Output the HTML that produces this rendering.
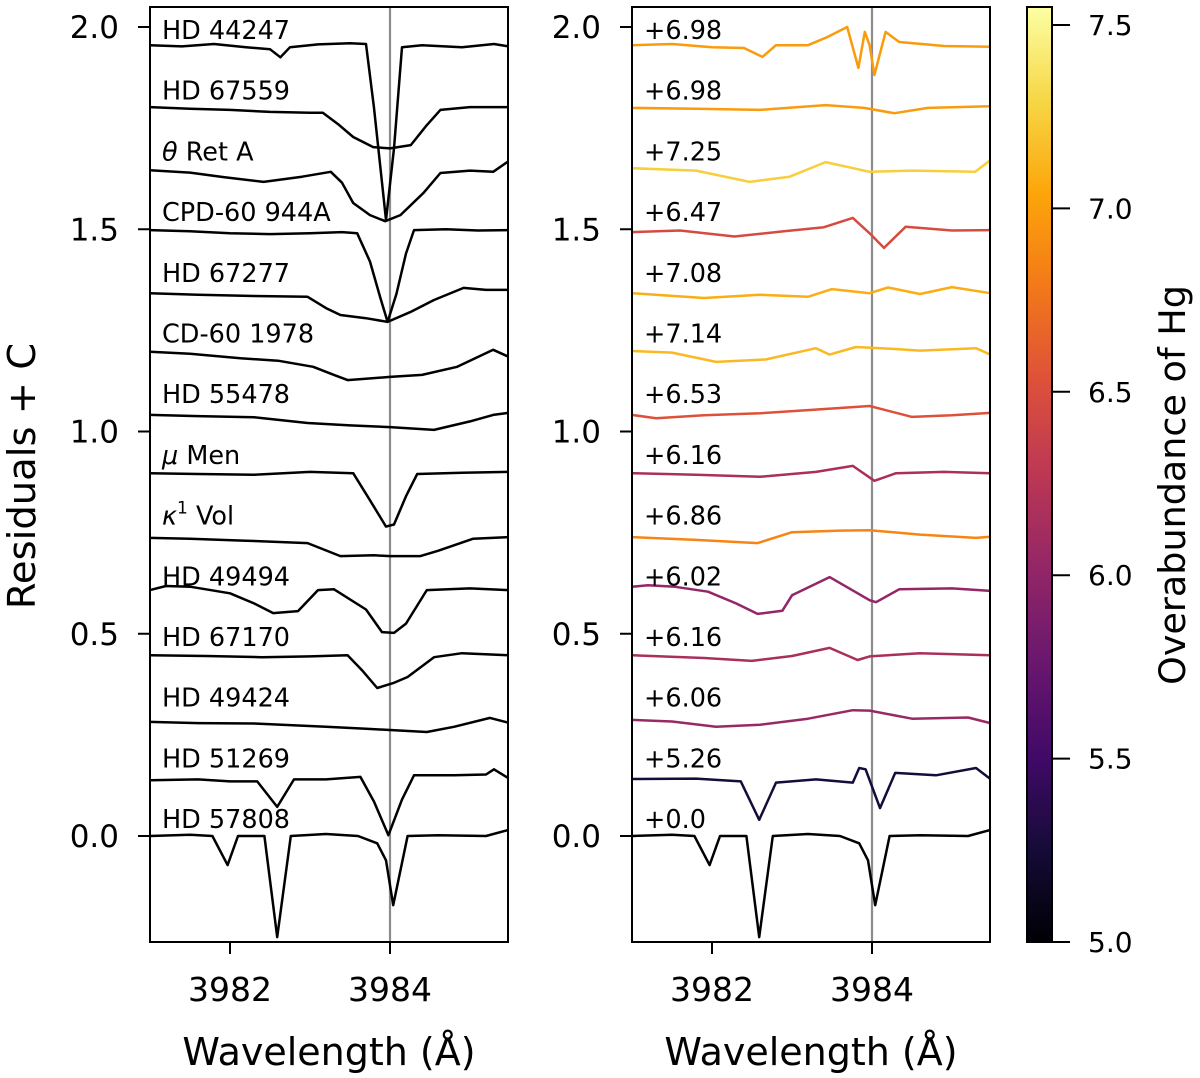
<!DOCTYPE html>
<html><head><meta charset="utf-8"><style>
html,body{margin:0;padding:0;background:#fff}
svg{display:block;font-family:"DejaVu Sans","Liberation Sans",sans-serif}
</style></head><body>
<svg id="chart" width="1200" height="1078" viewBox="0 0 1200 1078" xmlns="http://www.w3.org/2000/svg">
<defs>
<linearGradient id="cbgrad" x1="0" y1="1" x2="0" y2="0">
<stop offset="0" stop-color="#000004"/><stop offset="0.1" stop-color="#160b39"/><stop offset="0.2" stop-color="#420a68"/><stop offset="0.3" stop-color="#6a176e"/><stop offset="0.4" stop-color="#932667"/><stop offset="0.5" stop-color="#bc3754"/><stop offset="0.6" stop-color="#dd513a"/><stop offset="0.7" stop-color="#f37819"/><stop offset="0.8" stop-color="#fca50a"/><stop offset="0.9" stop-color="#f6d746"/><stop offset="1" stop-color="#fcffa4"/>
</linearGradient>
</defs>
<g id="left"></g>
<g id="right"></g>
<g id="cbar"></g>
</svg>
<script>
// ---- data ----
const starNames = ["HD 44247","HD 67559","θ Ret A","CPD-60 944A","HD 67277","CD-60 1978","HD 55478","μ Men","κ1 Vol","HD 49494","HD 67170","HD 49424","HD 51269","HD 57808"];
const abundances = [6.98,6.98,7.25,6.47,7.08,7.14,6.53,6.16,6.86,6.02,6.16,6.06,5.26,0.0];
const abundanceLabels = ["+6.98","+6.98","+7.25","+6.47","+7.08","+7.14","+6.53","+6.16","+6.86","+6.02","+6.16","+6.06","+5.26","+0.0"];
const yTicks = [0.0,0.5,1.0,1.5,2.0];
const yTickLabels = ["0.0","0.5","1.0","1.5","2.0"];
const xTicks = [3982,3984];
const cbTicks = [5.0,5.5,6.0,6.5,7.0,7.5];
const cbTickLabels = ["5.0","5.5","6.0","6.5","7.0","7.5"];
const markerLine = 3984;

const L1_wl=[3981.0,3981.4,3981.8,3982.2,3982.5,3982.63,3982.75,3983.1,3983.5,3983.7,3983.8,3983.95,3984.05,3984.15,3984.4,3984.9,3985.3,3985.48];
const L1_fx=[1.955,1.952,1.958,1.950,1.945,1.925,1.950,1.957,1.960,1.958,1.80,1.523,1.70,1.950,1.955,1.950,1.958,1.952];
const L2_wl=[3981.0,3981.5,3982.0,3982.5,3983.0,3983.16,3983.35,3983.54,3983.79,3984.0,3984.26,3984.45,3984.63,3985.0,3985.48];
const L2_fx=[1.802,1.798,1.795,1.790,1.788,1.788,1.760,1.728,1.703,1.700,1.708,1.755,1.795,1.802,1.802];
const L3_wl=[3981.0,3981.5,3981.92,3982.42,3982.9,3983.26,3983.4,3983.54,3983.75,3983.94,3984.13,3984.42,3984.63,3985.0,3985.29,3985.48];
const L3_fx=[1.646,1.640,1.629,1.617,1.630,1.642,1.615,1.565,1.535,1.520,1.535,1.590,1.639,1.645,1.642,1.668];
const L4_wl=[3981.0,3981.5,3982.0,3982.5,3983.0,3983.4,3983.59,3983.75,3983.88,3983.97,3984.08,3984.2,3984.3,3984.7,3985.1,3985.48];
const L4_fx=[1.498,1.495,1.490,1.488,1.490,1.493,1.490,1.420,1.330,1.271,1.340,1.440,1.498,1.500,1.497,1.498];
const L5_wl=[3981.0,3981.6,3982.3,3982.97,3983.2,3983.38,3983.7,3983.97,3984.25,3984.55,3984.92,3985.2,3985.48];
const L5_fx=[1.342,1.338,1.335,1.333,1.305,1.288,1.280,1.271,1.295,1.325,1.355,1.350,1.350];
const L6_wl=[3981.0,3981.5,3982.13,3982.6,3983.04,3983.3,3983.47,3984.0,3984.4,3984.84,3985.29,3985.48];
const L6_fx=[1.197,1.192,1.181,1.175,1.160,1.140,1.127,1.135,1.140,1.160,1.202,1.185];
const L7_wl=[3981.0,3981.6,3982.3,3982.97,3983.5,3984.0,3984.55,3985.0,3985.29,3985.48];
const L7_fx=[1.041,1.038,1.035,1.021,1.015,1.011,1.004,1.025,1.041,1.046];
const L8_wl=[3981.0,3981.6,3982.3,3983.0,3983.54,3983.75,3983.95,3984.05,3984.2,3984.34,3984.9,3985.48];
const L8_fx=[0.897,0.895,0.893,0.900,0.897,0.830,0.765,0.770,0.840,0.895,0.898,0.900];
const L9_wl=[3981.0,3981.5,3982.2,3982.97,3983.38,3983.8,3984.0,3984.38,3984.6,3985.04,3985.48];
const L9_fx=[0.737,0.735,0.730,0.724,0.692,0.694,0.692,0.692,0.705,0.735,0.739];
const L10_wl=[3981.0,3981.2,3981.51,3982.0,3982.3,3982.54,3982.85,3983.1,3983.3,3983.7,3983.9,3984.05,3984.2,3984.46,3985.0,3985.48];
const L10_fx=[0.608,0.618,0.616,0.600,0.575,0.551,0.556,0.608,0.610,0.560,0.504,0.502,0.525,0.608,0.612,0.608];
const L11_wl=[3981.0,3981.7,3982.4,3983.0,3983.47,3983.65,3983.84,3984.04,3984.22,3984.55,3984.9,3985.48];
const L11_fx=[0.447,0.445,0.442,0.444,0.447,0.410,0.366,0.378,0.393,0.442,0.452,0.447];
const L12_wl=[3981.0,3981.6,3982.3,3983.2,3983.7,3984.0,3984.46,3984.8,3985.25,3985.48];
const L12_fx=[0.282,0.279,0.278,0.270,0.265,0.262,0.257,0.270,0.292,0.280];
const L13_wl=[3981.0,3981.6,3982.0,3982.34,3982.59,3982.8,3983.2,3983.63,3983.8,3983.98,3984.15,3984.3,3984.8,3985.2,3985.3,3985.48];
const L13_fx=[0.138,0.140,0.135,0.135,0.072,0.140,0.140,0.146,0.085,0.002,0.090,0.150,0.150,0.152,0.165,0.143];
const L14_wl=[3981.0,3981.5,3981.78,3981.97,3982.1,3982.43,3982.59,3982.76,3983.2,3983.6,3983.84,3983.95,3984.04,3984.22,3984.6,3985.2,3985.48];
const L14_fx=[0.0,0.003,0.0,-0.072,0.0,0.0,-0.25,0.0,0.005,0.0,-0.018,-0.06,-0.171,0.0,0.002,0.0,0.015];

const R1_wl=[3981.0,3981.5,3982.0,3982.4,3982.63,3982.8,3983.2,3983.44,3983.69,3983.83,3983.91,3983.97,3984.03,3984.17,3984.34,3984.9,3985.48];
const R1_fx=[1.955,1.958,1.950,1.948,1.926,1.955,1.955,1.975,2.0,1.899,1.988,1.955,1.881,1.988,1.963,1.953,1.951];
const R2_wl=[3981.0,3981.8,3982.6,3983.42,3983.9,3984.28,3984.7,3985.48];
const R2_fx=[1.800,1.798,1.795,1.807,1.800,1.787,1.800,1.804];
const R3_wl=[3981.0,3981.8,3982.47,3982.97,3983.42,3983.97,3984.5,3985.29,3985.48];
const R3_fx=[1.651,1.645,1.617,1.630,1.666,1.642,1.645,1.642,1.671];
const R4_wl=[3981.0,3981.6,3982.28,3982.9,3983.4,3983.76,3983.97,3984.15,3984.42,3985.0,3985.48];
const R4_fx=[1.493,1.497,1.482,1.495,1.505,1.528,1.490,1.454,1.506,1.497,1.498];
const R5_wl=[3981.0,3981.9,3982.6,3983.2,3983.5,3983.97,3984.2,3984.6,3985.0,3985.48];
const R5_fx=[1.342,1.330,1.338,1.333,1.352,1.342,1.356,1.340,1.357,1.342];
const R6_wl=[3981.0,3981.5,3982.05,3982.67,3983.3,3983.47,3983.8,3984.2,3984.6,3985.3,3985.48];
const R6_fx=[1.199,1.195,1.172,1.178,1.206,1.190,1.209,1.205,1.200,1.206,1.190];
const R7_wl=[3981.0,3981.3,3981.9,3982.6,3983.2,3983.97,3984.5,3985.0,3985.48];
const R7_fx=[1.041,1.033,1.040,1.045,1.053,1.063,1.036,1.040,1.046];
const R8_wl=[3981.0,3981.8,3982.6,3983.3,3983.76,3984.03,3984.3,3984.9,3985.48];
const R8_fx=[0.897,0.893,0.888,0.900,0.915,0.878,0.897,0.900,0.897];
const R9_wl=[3981.0,3981.8,3982.57,3983.0,3983.6,3983.97,3984.6,3985.3,3985.48];
const R9_fx=[0.739,0.732,0.724,0.751,0.755,0.756,0.745,0.737,0.740];
const R10_wl=[3981.0,3981.2,3981.54,3981.95,3982.3,3982.57,3982.88,3983.0,3983.47,3983.97,3984.05,3984.34,3985.0,3985.48];
const R10_fx=[0.616,0.620,0.616,0.604,0.575,0.549,0.557,0.595,0.640,0.583,0.578,0.610,0.612,0.606];
const R11_wl=[3981.0,3981.9,3982.5,3983.0,3983.47,3983.82,3983.97,3984.6,3985.48];
const R11_fx=[0.447,0.440,0.433,0.445,0.465,0.435,0.444,0.452,0.447];
const R12_wl=[3981.0,3981.5,3982.05,3982.6,3983.2,3983.76,3983.97,3984.5,3985.2,3985.48];
const R12_fx=[0.287,0.283,0.270,0.275,0.290,0.311,0.310,0.290,0.293,0.279];
const R13_wl=[3981.0,3981.8,3982.36,3982.59,3982.8,3983.3,3983.76,3983.84,3983.92,3984.1,3984.29,3984.8,3985.3,3985.48];
const R13_fx=[0.141,0.142,0.135,0.040,0.132,0.140,0.132,0.168,0.165,0.069,0.156,0.150,0.168,0.141];
const R14_wl=L14_wl;
const R14_fx=L14_fx;

const leftSeries=[[L1_wl,L1_fx],[L2_wl,L2_fx],[L3_wl,L3_fx],[L4_wl,L4_fx],[L5_wl,L5_fx],[L6_wl,L6_fx],[L7_wl,L7_fx],[L8_wl,L8_fx],[L9_wl,L9_fx],[L10_wl,L10_fx],[L11_wl,L11_fx],[L12_wl,L12_fx],[L13_wl,L13_fx],[L14_wl,L14_fx]];
const rightSeries=[[R1_wl,R1_fx],[R2_wl,R2_fx],[R3_wl,R3_fx],[R4_wl,R4_fx],[R5_wl,R5_fx],[R6_wl,R6_fx],[R7_wl,R7_fx],[R8_wl,R8_fx],[R9_wl,R9_fx],[R10_wl,R10_fx],[R11_wl,R11_fx],[R12_wl,R12_fx],[R13_wl,R13_fx],[R14_wl,R14_fx]];

// ---- layout ----
const NS="http://www.w3.org/2000/svg";
const TOP=7, BOT=942, PW=358;
const yS=v=>836-v*404.5;
const xS=(x0,wl)=>x0+(wl-3981.0)*80;
const CB={x:1027,w:25,top:7,bot:942,vmin:5.0,vmax:7.549};
const cbY=v=>CB.bot-(v-CB.vmin)/(CB.vmax-CB.vmin)*(CB.bot-CB.top);
const stops=[[0,0,4],[22,11,57],[66,10,104],[106,23,110],[147,38,103],[188,55,84],[221,81,58],[243,120,25],[252,165,10],[246,215,70],[252,255,164]];
function inferno(v){
  let t=(v-CB.vmin)/(CB.vmax-CB.vmin); t=Math.max(0,Math.min(1,t));
  const f=t*10, i=Math.min(9,Math.floor(f)), r=f-i;
  const c=stops[i].map((a,k)=>Math.round(a+(stops[i+1][k]-a)*r));
  return `rgb(${c[0]},${c[1]},${c[2]})`;
}
function el(tag,attrs,parent,text){
  const e=document.createElementNS(NS,tag);
  for(const k in attrs)e.setAttribute(k,attrs[k]);
  if(text!==undefined)e.textContent=text;
  parent.appendChild(e);return e;
}

function panel(g,x0,series,colors,labels,isLeft){
  const lim=el('line',{x1:xS(x0,markerLine),x2:xS(x0,markerLine),y1:TOP,y2:BOT,stroke:'#8c8c8c','stroke-width':2.2},g);
  
  
  series.forEach((s,i)=>{
    const pts=s[0].map((w,j)=>xS(x0,w).toFixed(1)+','+yS(s[1][j]).toFixed(1)).join(' ');
    const p=el('polyline',{points:pts,fill:'none',stroke:colors[i],'stroke-width':2.5,'stroke-linejoin':'round'},g);
    
    
    const ty=29+60.7*i;
    const t=el('text',{x:x0+12,y:ty+10,'font-size':25.5,fill:'#000'},g);
    
    
    const lab=labels[i];
    if(isLeft && lab.startsWith('θ')){el('tspan',{'font-style':'italic'},t,'θ');el('tspan',{},t,' Ret A');}
    else if(isLeft && lab.startsWith('μ')){el('tspan',{'font-style':'italic'},t,'μ');el('tspan',{},t,' Men');}
    else if(isLeft && lab.startsWith('κ')){el('tspan',{'font-style':'italic'},t,'κ');el('tspan',{'font-size':17,dy:-11},t,'1');el('tspan',{dy:11},t,' Vol');}
    else t.textContent=lab;
  });
  const fr=el('rect',{x:x0,y:TOP,width:PW,height:BOT-TOP,fill:'none',stroke:'#000','stroke-width':2},g);
  
  
  yTicks.forEach((v,i)=>{
    el('line',{x1:x0-12,x2:x0,y1:yS(v),y2:yS(v),stroke:'#000','stroke-width':2},g);
    const t=el('text',{x:x0-31,y:yS(v)+11,'font-size':31,'text-anchor':'end'},g,yTickLabels[i]);
    
    
  });
  xTicks.forEach(v=>{
    el('line',{x1:xS(x0,v),x2:xS(x0,v),y1:BOT,y2:BOT+12,stroke:'#000','stroke-width':2},g);
    const t=el('text',{x:xS(x0,v),y:BOT+59,'font-size':33,'text-anchor':'middle'},g,String(v));
    
    
  });
  const xl=el('text',{x:x0+PW/2,y:1065,'font-size':38,'text-anchor':'middle'},g,'Wavelength (Å)');
  
  
}

const left=document.getElementById('left'), right=document.getElementById('right'), cb=document.getElementById('cbar');
panel(left,150,leftSeries,leftSeries.map(()=>'#000'),starNames,true);
panel(right,632,rightSeries,abundances.map(inferno),abundanceLabels,false);
const yl=el('text',{x:0,y:0,'font-size':38.5,'text-anchor':'middle',transform:'translate(35,476) rotate(-90)'},left,'Residuals + C');



const cr=el('rect',{x:CB.x,y:CB.top,width:CB.w,height:CB.bot-CB.top,fill:'url(#cbgrad)',stroke:'#000','stroke-width':2},cb);


cbTicks.forEach((v,i)=>{
  el('line',{x1:CB.x+CB.w,x2:CB.x+CB.w+18,y1:cbY(v),y2:cbY(v),stroke:'#000','stroke-width':2},cb);
  const t=el('text',{x:1088,y:cbY(v)+10,'font-size':28},cb,cbTickLabels[i]);
  
  
});
const cl=el('text',{x:0,y:0,'font-size':36.5,'text-anchor':'middle',transform:'translate(1185,485) rotate(-90)'},cb,'Overabundance of Hg');


</script>
</body></html>
